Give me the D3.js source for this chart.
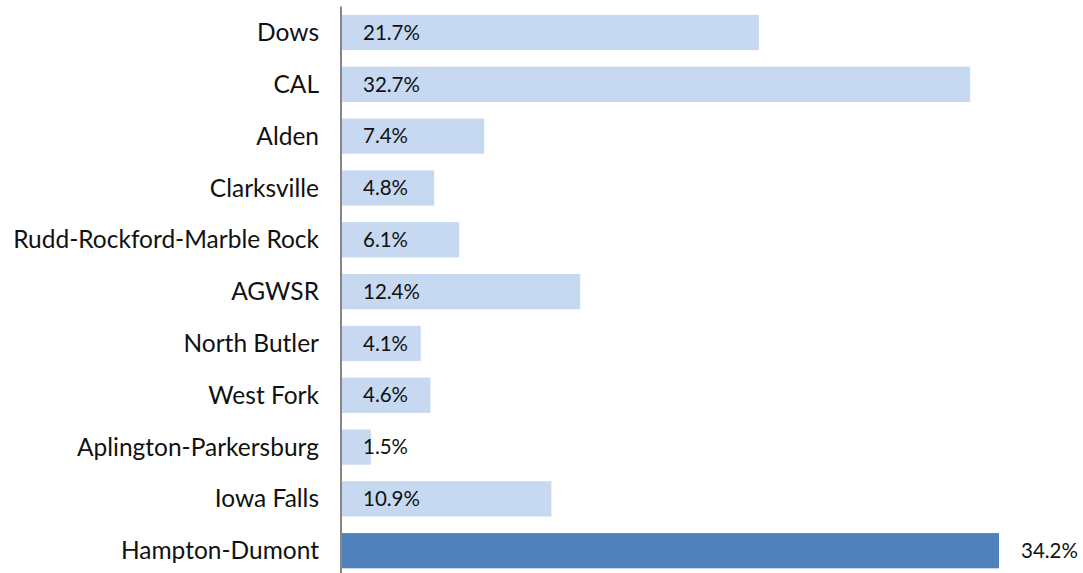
<!DOCTYPE html>
<html>
<head>
<meta charset="utf-8">
<script src="https://cdn.jsdelivr.net/npm/d3@7"></script>
<style>
  body { margin: 0; background: #fff; }
  svg { display: block; }
  text { font-family: Lato, "Open Sans", sans-serif; fill: #111; }
</style>
</head>
<body>
<div id="chart"></div>
<script>
// categories top to bottom and their shares (%)
const districts = ["Dows", "CAL", "Alden", "Clarksville", "Rudd-Rockford-Marble Rock",
                   "AGWSR", "North Butler", "West Fork", "Aplington-Parkersburg",
                   "Iowa Falls", "Hampton-Dumont"];
const shares = [21.7, 32.7, 7.4, 4.8, 6.1, 12.4, 4.1, 4.6, 1.5, 10.9, 34.2];
const highlighted = ["Hampton-Dumont"];

const data = districts.map((d, i) => ({name: d, pct: shares[i]}));

const width = 1083;
const height = 573;
const margin = {top: 6.6, left: 342, right: 0, bottom: -3.6};

const svg = d3.select("#chart").append("svg")
    .attr("width", width)
    .attr("height", height);

/***** SCALES *****/
const xScale = d3.scaleLinear()
    .domain([0, 34.2])
    .range([margin.left, 999]);

const yScale = d3.scaleBand()
    .domain(districts)
    .range([margin.top, height - margin.bottom])
    .paddingInner(0.32)
    .paddingOuter(0.16);

/***** BARS *****/
svg.selectAll(".bar")
    .data(data)
    .enter()
    .append("rect")
    .attr("class", "bar")
    .attr("x", xScale(0))
    .attr("y", d => yScale(d.name))
    .attr("width", d => xScale(d.pct) - xScale(0))
    .attr("height", yScale.bandwidth())
    .style("fill", d => highlighted.includes(d.name) ? "#4F81BD" : "#C6D9F1");

/***** Y AXIS *****/
svg.append("line")
    .attr("x1", xScale(0) - 1)
    .attr("x2", xScale(0) - 1)
    .attr("y1", margin.top)
    .attr("y2", height)
    .style("stroke", "#868686")
    .style("stroke-width", 2);

svg.selectAll(".catLabel")
    .data(data)
    .enter()
    .append("text")
    .attr("class", "catLabel")
    .attr("x", xScale(0) - 23)
    .attr("y", d => yScale(d.name) + yScale.bandwidth() / 2)
    .attr("dy", "0.35em")
    .attr("text-anchor", "end")
    .style("font-size", "24.5px")
    .text(d => d.name);

/***** VALUE LABELS *****/
svg.selectAll(".valLabel")
    .data(data)
    .enter()
    .append("text")
    .attr("class", "valLabel")
    .attr("x", d => highlighted.includes(d.name) ? xScale(d.pct) + 22 : xScale(0) + 21)
    .attr("y", d => yScale(d.name) + yScale.bandwidth() / 2)
    .attr("dy", "0.35em")
    .style("font-size", "20.5px")
    .text(d => d3.format(".1f")(d.pct) + "%");
</script>
</body>
</html>
